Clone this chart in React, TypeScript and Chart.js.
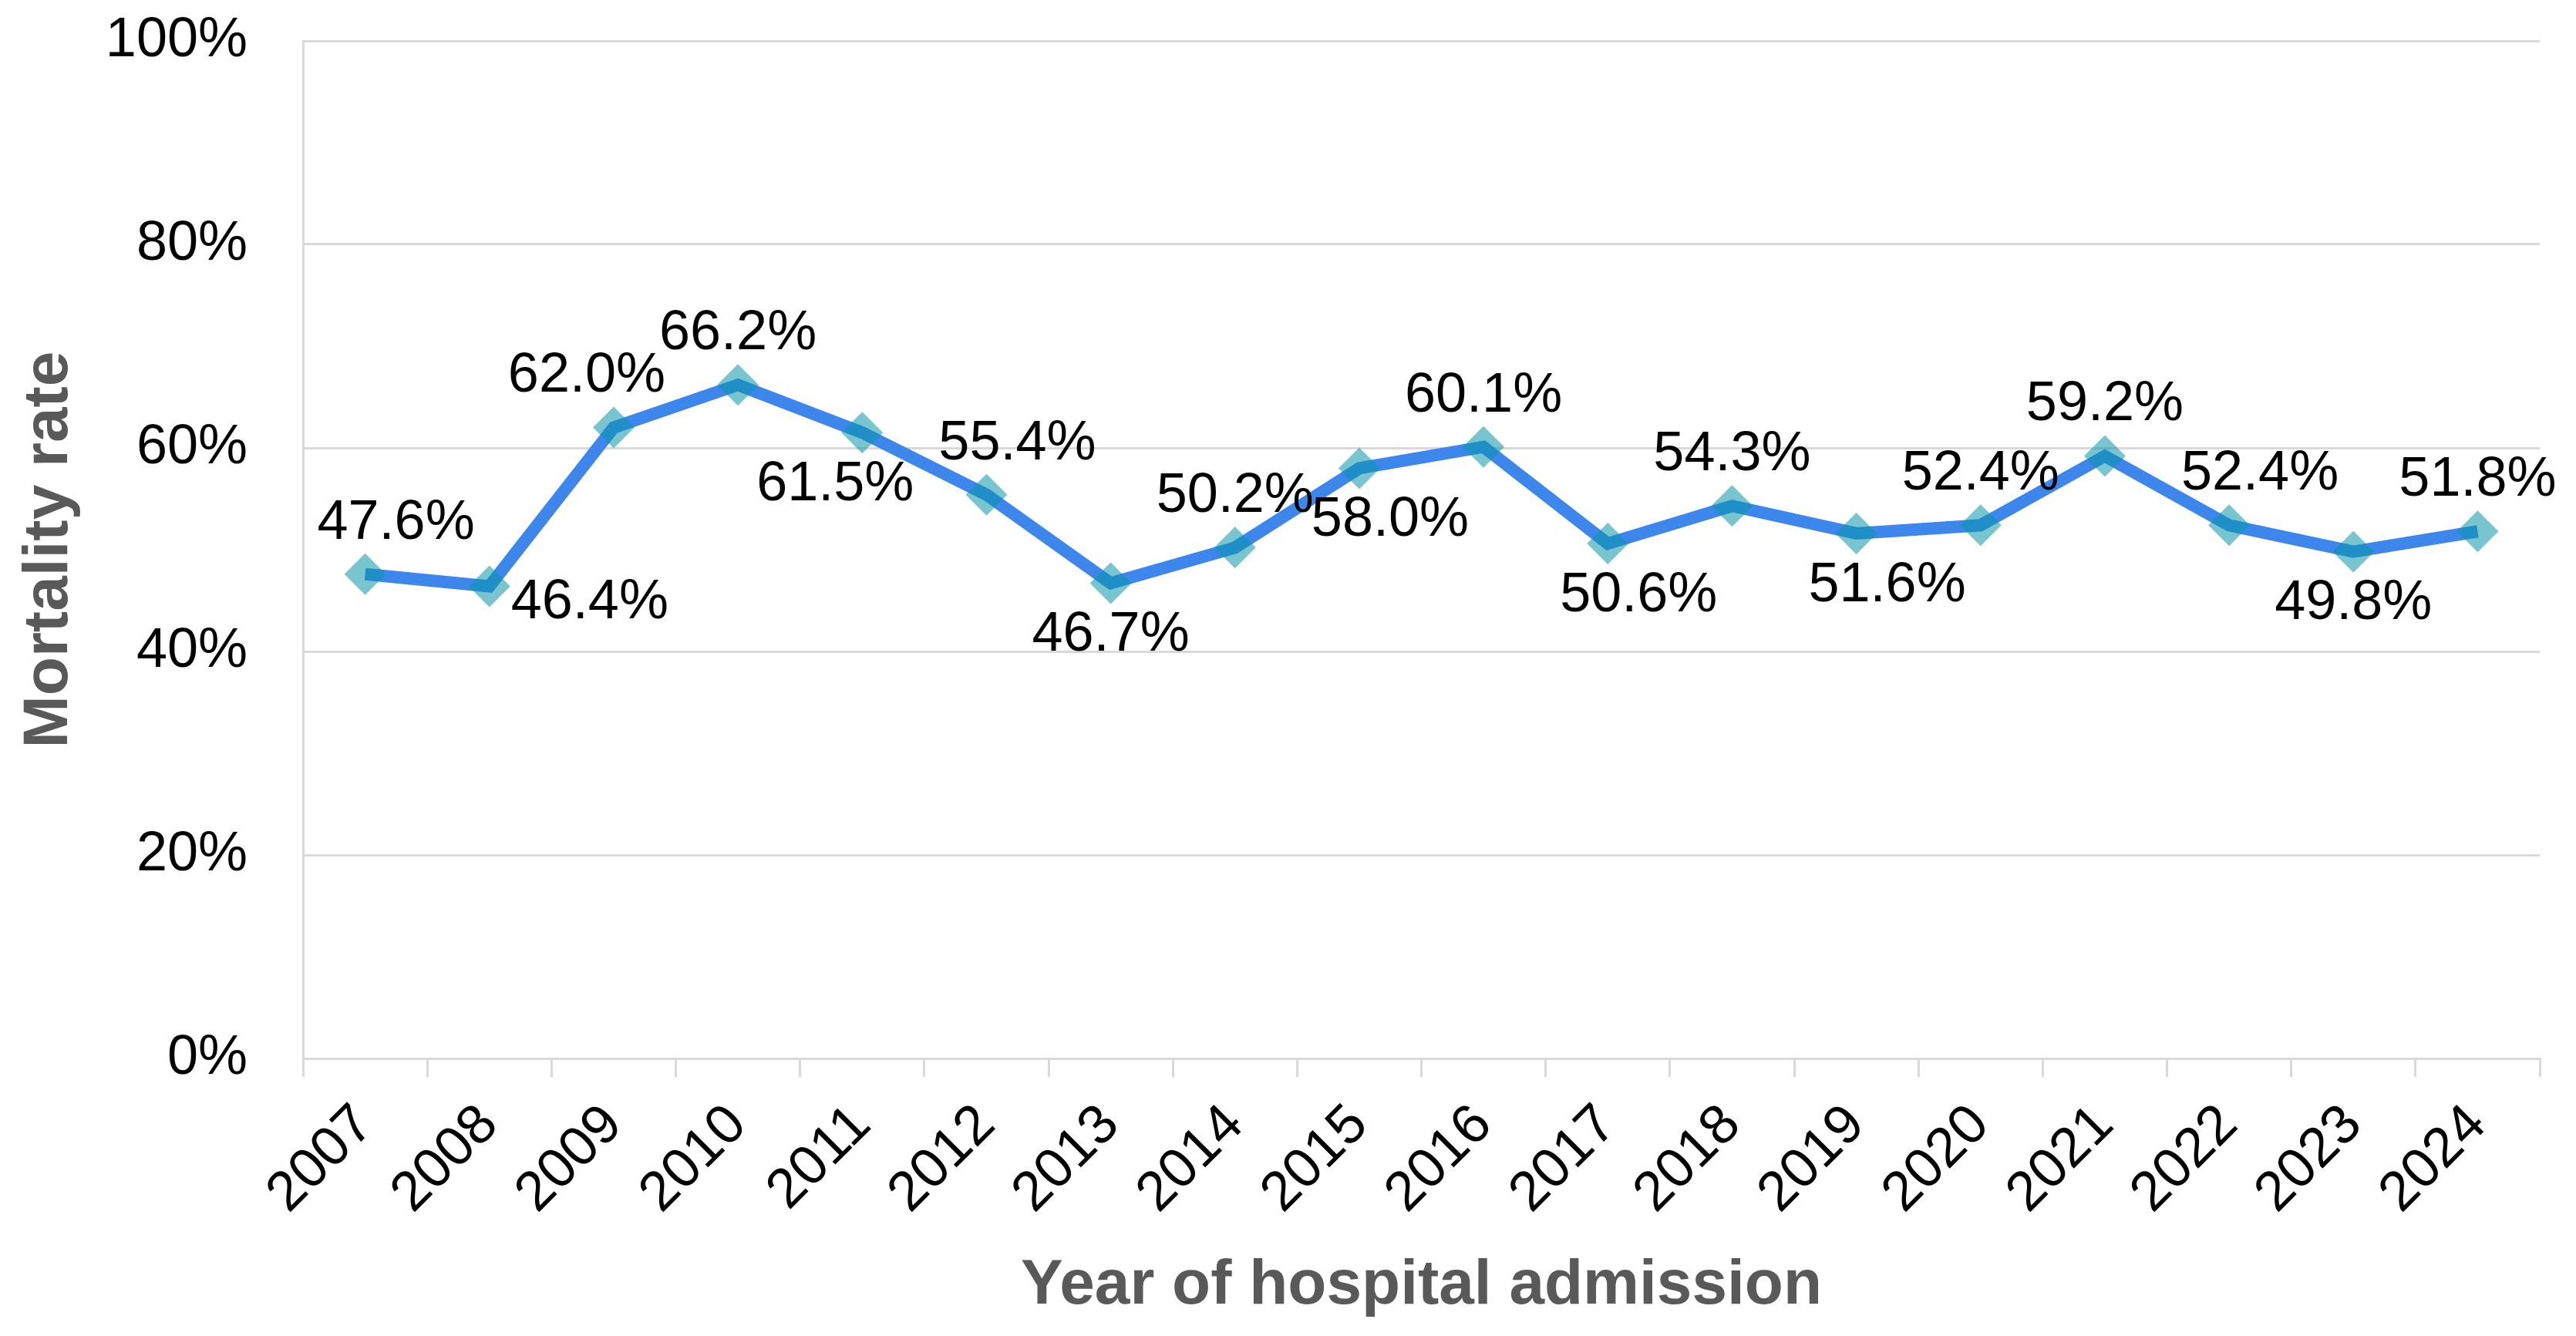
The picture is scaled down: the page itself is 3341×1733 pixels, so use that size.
import React, { useEffect, useRef } from "react";
import { Chart, registerables } from "chart.js";

Chart.register(...registerables);

const years = [
  "2007", "2008", "2009", "2010", "2011", "2012", "2013", "2014", "2015",
  "2016", "2017", "2018", "2019", "2020", "2021", "2022", "2023", "2024",
];
const mortality = [
  47.6, 46.4, 62.0, 66.2, 61.5, 55.4, 46.7, 50.2, 58.0,
  60.1, 50.6, 54.3, 51.6, 52.4, 59.2, 52.4, 49.8, 51.8,
];
const labelPlacement = [
  "aboveRight", "right", "aboveLeft", "above", "belowLeft", "aboveRight",
  "below", "above", "belowRight", "above", "belowRight", "above",
  "belowRight", "above", "above", "aboveRight", "below", "above",
];
const yMin = 0;
const yMax = 100;
const yStep = 20;
const xTitle = "Year of hospital admission";
const yTitle = "Mortality rate";

const FONT = "'Liberation Sans', Arial, Helvetica, sans-serif";
const GRID = "#d9d9d9";
const TITLE_COLOR = "#595959";

const W = 3341;
const H = 1733;

const labelPlugin = {
  id: "pointValueLabels",
  afterDatasetsDraw(chart: any) {
    const meta = chart.getDatasetMeta(0);
    const ctx = chart.ctx;
    ctx.save();
    ctx.font = `72px ${FONT}`;
    ctx.fillStyle = "#000000";
    ctx.textBaseline = "middle";
    meta.data.forEach((pt: any, i: number) => {
      const code = labelPlacement[i];
      let dx = 0;
      let dy = 0;
      ctx.textAlign = "center";
      if (code === "right") {
        ctx.textAlign = "left";
        dx = 28;
        dy = 22;
      } else {
        if (code.startsWith("above")) dy = -66;
        if (code.startsWith("below")) dy = 68;
        if (code.endsWith("Right")) dx = 40;
        if (code.endsWith("Left")) dx = -35;
      }
      ctx.fillText(mortality[i].toFixed(1) + "%", pt.x + dx, pt.y + dy);
    });
    ctx.restore();
  },
};

export default function App() {
  const canvasRef = useRef<HTMLCanvasElement | null>(null);

  useEffect(() => {
    document.body.style.margin = "0";
    document.body.style.overflow = "hidden";
    const canvas = canvasRef.current;
    if (!canvas) return;
    const chart = new Chart(canvas, {
      type: "line",
      data: {
        labels: years,
        datasets: [
          {
            label: yTitle,
            data: mortality,
            borderColor: "#3d86ec",
            borderWidth: 16,
            tension: 0,
            fill: false,
            pointStyle: "rectRot",
            pointRadius: 27,
            pointHoverRadius: 27,
            pointBackgroundColor: "rgba(10,150,170,0.55)",
            pointBorderColor: "rgba(10,150,170,0)",
            pointBorderWidth: 0,
            borderJoinStyle: "miter",
          },
        ],
      },
      options: {
        responsive: false,
        animation: false,
        devicePixelRatio: 1,
        layout: { padding: { top: 53, right: 47, bottom: 0, left: 0 } },
        plugins: {
          legend: { display: false },
          tooltip: { enabled: false },
          title: { display: false },
        },
        scales: {
          x: {
            type: "category",
            offset: true,
            afterFit: (scale: any) => {
              scale.height = 360;
              scale.paddingLeft = 0;
              scale.paddingRight = 0;
            },
            grid: {
              offset: true,
              drawOnChartArea: false,
              drawTicks: true,
              tickLength: 24,
              color: GRID,
              lineWidth: 3,
            },
            border: { display: true, color: GRID, width: 3 },
            ticks: {
              autoSkip: false,
              maxRotation: 45,
              minRotation: 45,
              padding: 20,
              color: "#000000",
              font: { family: FONT, size: 72 },
            },
            title: {
              display: true,
              text: xTitle,
              color: TITLE_COLOR,
              font: { family: FONT, size: 82, weight: "bold" },
              padding: { top: 0, bottom: 15 },
            },
          },
          y: {
            min: yMin,
            max: yMax,
            afterFit: (scale: any) => {
              scale.width = 393;
              scale.paddingTop = 0;
              scale.paddingBottom = 0;
            },
            grid: {
              drawTicks: false,
              color: GRID,
              lineWidth: 3,
            },
            border: { display: true, color: GRID, width: 3 },
            ticks: {
              stepSize: yStep,
              padding: 72,
              color: "#000000",
              font: { family: FONT, size: 72 },
              callback: (v: any) => `${v}%`,
            },
            title: {
              display: true,
              text: yTitle,
              color: TITLE_COLOR,
              font: { family: FONT, size: 82, weight: "bold" },
              padding: { top: 15, bottom: 0 },
            },
          },
        },
      },
      plugins: [labelPlugin],
    });
    return () => {
      chart.destroy();
    };
  }, []);

  return (
    <div style={{ width: W, height: H, background: "#ffffff" }}>
      <canvas
        ref={canvasRef}
        width={W}
        height={H}
        style={{ display: "block", width: W, height: H }}
      />
    </div>
  );
}
